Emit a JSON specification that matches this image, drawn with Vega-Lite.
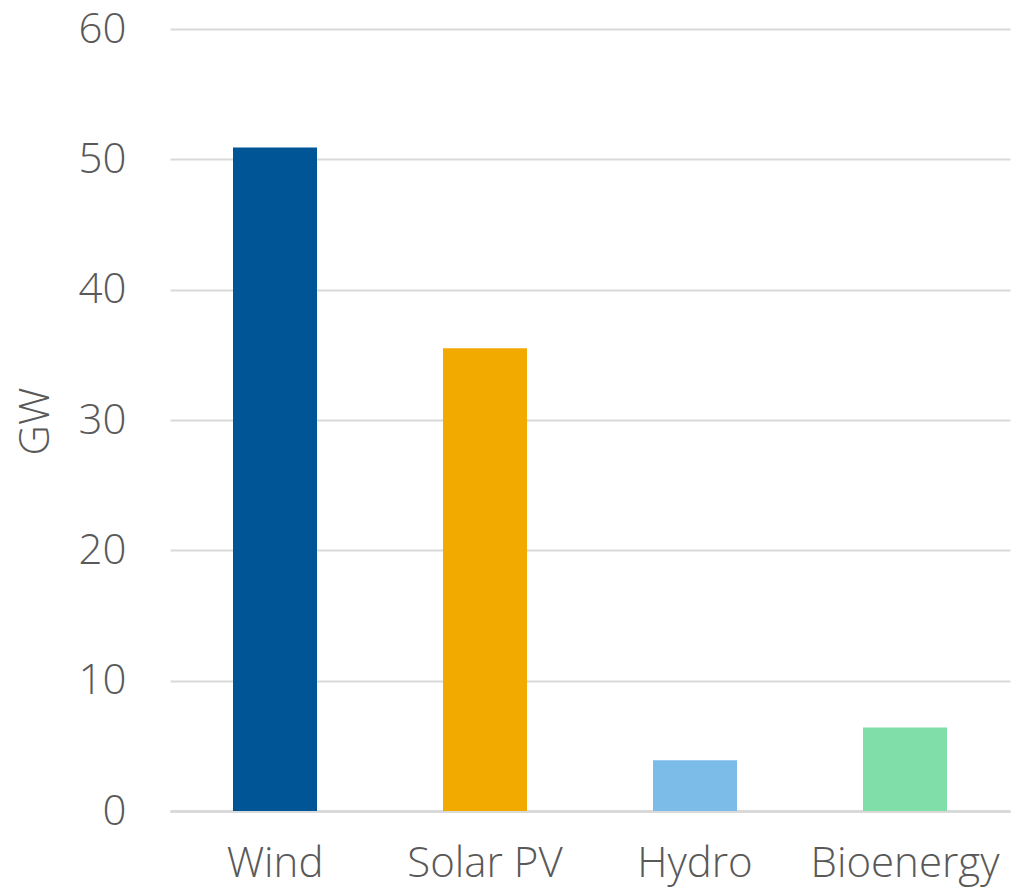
{
  "$schema": "https://vega.github.io/schema/vega-lite/v6.json",
  "width": 840,
  "height": 782,
  "autosize": "none",
  "padding": {"left": 170, "top": 29, "right": 13, "bottom": 83},
  "background": "white",
  "config": {"view": {"stroke": null}, "font": "Open Sans"},
  "data": {"values": [
    {"source": "Wind", "gw": 50.9},
    {"source": "Solar PV", "gw": 35.5},
    {"source": "Hydro", "gw": 3.9},
    {"source": "Bioenergy", "gw": 6.4}
  ]},
  "mark": {"type": "bar"},
  "encoding": {
    "x": {
      "field": "source", "type": "nominal", "sort": null,
      "scale": {"paddingInner": 0.6, "paddingOuter": 0.3},
      "axis": {"title": null, "labelAngle": 0, "labelFontSize": 42, "labelColor": "#595959", "labelFont": "Open Sans", "labelFontWeight": 300, "labelLimit": 0,
        "ticks": false, "domainColor": "#d9d9d9", "domainWidth": 3, "labelPadding": 32}
    },
    "y": {
      "field": "gw", "type": "quantitative",
      "scale": {"domain": [0, 60]},
      "axis": {"title": "GW", "values": [0, 10, 20, 30, 40, 50, 60], "labelFontSize": 42, "labelColor": "#595959", "labelFont": "Open Sans", "labelFontWeight": 300,
        "titleFontSize": 42, "titleColor": "#595959", "titleFont": "Open Sans", "titleFontWeight": 300,
        "titleX": -135, "titleY": 392, "titleAngle": -90, "titleBaseline": "middle", "titleAlign": "center",
        "ticks": false, "domain": false, "labelPadding": 44, "gridColor": "#d9d9d9", "gridWidth": 2}
    },
    "color": {
      "field": "source", "type": "nominal", "legend": null,
      "scale": {"domain": ["Wind", "Solar PV", "Hydro", "Bioenergy"], "range": ["#005596", "#F2A900", "#7BBDE8", "#80DFA8"]}
    }
  }
}
